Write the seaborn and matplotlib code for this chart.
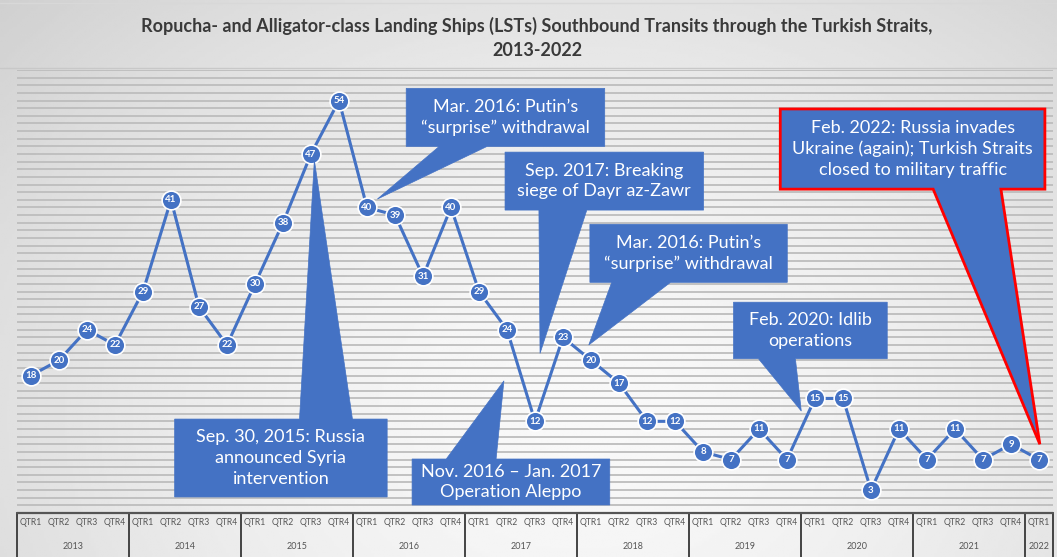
import numpy as np
import pandas as pd
import matplotlib.pyplot as plt
import seaborn as sns
from matplotlib.patches import Polygon

# quarterly southbound LST transits, 2013 Q1 .. 2022 Q1
years = ['2013', '2014', '2015', '2016', '2017', '2018', '2019', '2020', '2021', '2022']
quarters = ['QTR1', 'QTR2', 'QTR3', 'QTR4']
transits = [18, 20, 24, 22,
            29, 41, 27, 22,
            30, 38, 47, 54,
            40, 39, 31, 40,
            29, 24, 12, 23,
            20, 17, 12, 12,
            8, 7, 11, 7,
            15, 15, 3, 11,
            7, 11, 7, 9,
            7]

title = ('Ropucha- and Alligator-class Landing Ships (LSTs) Southbound Transits through the Turkish Straits,\n'
         '2013-2022')

# callouts: text, box (x0, x1, ybottom, ytop), pointer base (xa, xb), tip (x, y), side of box the pointer leaves
callouts = [
    ('Sep. 30, 2015: Russia\nannounced Syria\nintervention', (5.13, 12.72, 2.1, 12.3), (9.59, 11.48), (10.12, 46.2), 'top', False),
    ('Mar. 2016: Putin\u2019s\n\u201csurprise\u201d withdrawal', (13.40, 20.49, 48.0, 55.6), (14.58, 16.29), (12.37, 41.1), 'bottom', False),
    ('Sep. 2017: Breaking\nsiege of Dayr az-Zawr', (16.93, 24.02, 39.66, 47.25), (18.14, 19.85), (18.18, 20.9), 'bottom', False),
    ('Mar. 2016: Putin\u2019s\n\u201csurprise\u201d withdrawal', (19.96, 27.01, 30.2, 37.8), (20.74, 22.84), (19.92, 22.0), 'bottom', False),
    ('Feb. 2020: Idlib\noperations', (25.09, 30.58, 20.2, 27.6), (25.98, 27.30), (27.51, 13.35), 'bottom', False),
    ('Feb. 2022: Russia invades\nUkraine (again); Turkish Straits\nclosed to military traffic', (26.76, 36.21, 42.4, 52.9), (32.22, 34.64), (36.03, 9.0), 'bottom', True),
    ('Nov. 2016 \u2013 Jan. 2017\nOperation Aleppo', (13.61, 20.67, 1.05, 7.07), (14.83, 16.61), (16.89, 17.3), 'top', False),
]

labels = [f'{y} {q}' for y in years for q in quarters][:len(transits)]
df = pd.DataFrame({'idx': np.arange(len(transits)), 'quarter': labels, 'transits': transits})

blue = '#4472C4'
sns.set_style('white')
plt.rcParams['font.family'] = ['Lato', 'DejaVu Sans']

W, H = 1057, 557
fig = plt.figure(figsize=(W / 100, H / 100), dpi=100)

# soft gray radial background
bg = fig.add_axes([0, 0, 1, 1], zorder=-10)
gx, gy = np.meshgrid(np.linspace(0, 1, 400), np.linspace(0, 1, 220))
r = np.sqrt(((gx - 0.55) / 0.75) ** 2 + ((gy - 0.25) / 1.1) ** 2)
shade = 0.975 - 0.16 * np.clip(r, 0, 1) ** 1.6
bg.imshow(shade, cmap='gray', vmin=0, vmax=1, aspect='auto', extent=[0, 1, 1, 0])
bg.axhline(1 - 68 / H, color='#c8c8c8', lw=1)
bg.axhline(1 - 3 / H, color='#d8d8d8', lw=1)
bg.set_xlim(0, 1)
bg.set_ylim(0, 1)
bg.axis('off')

fig.text(0.508, 1 - 38 / H, title, ha='center', va='center', fontsize=13, fontweight='bold',
         color='#3a3a3a', linespacing=1.5)

ax = fig.add_axes([17 / W, (H - 513) / H, 1036 / W, 443 / H])
ax.patch.set_alpha(0)
ax.set_xlim(-0.5, len(transits) - 0.5)
ax.set_ylim(0, 58)
ax.set_yticks(range(0, 59))
ax.grid(axis='y', color='#bdbdbd', lw=1.3)
ax.set_xticks([])
ax.tick_params(left=False, labelleft=False)
for s in ax.spines.values():
    s.set_visible(False)

sns.lineplot(data=df, x='idx', y='transits', ax=ax, color=blue, lw=2.2, marker='o', markersize=13.5,
             markeredgecolor='white', markeredgewidth=1.2, zorder=5)
for i, v in zip(df['idx'], df['transits']):
    ax.text(i, v, str(v), ha='center', va='center', color='white', fontsize=7, fontweight='bold', zorder=6)
ax.set_xlabel('')
ax.set_ylabel('')

# callout boxes with wedge pointers
for text, (x0, x1, yb, yt), (xa, xb), tip, side, red in callouts:
    if side == 'bottom':
        pts = [(x0, yt), (x1, yt), (x1, yb), (xb, yb), tip, (xa, yb), (x0, yb)]
    else:
        pts = [(x0, yb), (x0, yt), (xa, yt), tip, (xb, yt), (x1, yt), (x1, yb)]
    ax.add_patch(Polygon(pts, closed=True, facecolor=blue, edgecolor='red' if red else blue,
                         lw=2 if red else 0.5, zorder=7, clip_on=False))
    ax.text((x0 + x1) / 2, (yb + yt) / 2, text, ha='center', va='center', color='white',
            fontsize=13, linespacing=1.35, zorder=8)

# two-level category axis underneath
tr = ax.get_xaxis_transform()
n = len(transits)
ax.plot([-0.5, n - 0.5], [0, 0], transform=tr, color='#555555', lw=1.6, clip_on=False, zorder=3)
for k, y in enumerate(years):
    start = k * 4 - 0.5
    end = min(start + 4, n - 0.5)
    ax.plot([start, start], [0, -0.1], transform=tr, color='#444444', lw=1.4, clip_on=False)
    ax.text((start + end) / 2, -0.075, y, transform=tr, ha='center', va='center', fontsize=6.5, color='#555555')
ax.plot([n - 0.5, n - 0.5], [0, -0.1], transform=tr, color='#444444', lw=1.4, clip_on=False)
for i, lab in enumerate(labels):
    ax.text(i, -0.021, lab.split()[1], transform=tr, ha='center', va='center', fontsize=6.2, color='#555555')

fig.savefig('out.png', dpi=100)
